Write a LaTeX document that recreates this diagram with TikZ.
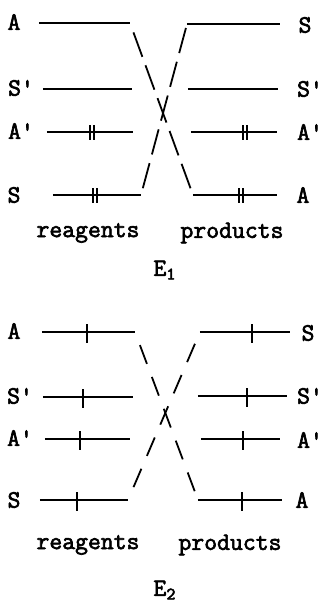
\documentclass[tikz,border=0pt]{standalone}
\usepackage{fontspec}
\setmonofont{Latin Modern Mono}[FakeBold=2.5]
\begin{document}
\begin{tikzpicture}[x=0.5pt,y=-0.5pt,
  lvl/.style={line width=1.2pt},
  tick/.style={line width=1.1pt},
  corr/.style={dash pattern=on 13pt off 4.5pt,line width=0.9pt},
  corrw/.style={dash pattern=on 10pt off 7pt,line width=0.9pt},
  lab/.style={font=\fontsize{12.5}{14}\ttfamily\bfseries,inner sep=0pt}]
  \useasboundingbox (0,0) rectangle (323,602);
  \node[lab] (ta1) at (14,22) {A};
  \node[lab] (ts1) at (21,88) {S'};
  \node[lab] (tap1) at (21,131) {A'};
  \node[lab] (tss1) at (14,195) {S};
  \draw[lvl] (39,23) -- (130,23) coordinate (rA1);
  \draw[lvl] (43,89) -- (132,89);
  \draw[lvl] (47,132) -- (133,132);
  \draw[lvl] (53,195) -- (141,195) coordinate (rS1);
  \draw[tick] (90,125) -- (90,140) (94,125) -- (94,140);
  \draw[tick] (93,188) -- (93,203) (97,188) -- (97,203);
  \draw[lvl] (187,24) coordinate (pS1) -- (280,24);
  \draw[lvl] (188,89) -- (278,89);
  \draw[lvl] (191,132) -- (277,132);
  \draw[lvl] (193,195) coordinate (pA1) -- (277,195);
  \draw[tick] (243,125) -- (243,140) (247,125) -- (247,140);
  \draw[tick] (239,188) -- (239,203) (243,188) -- (243,203);
  \node[lab] (ts2) at (305,25) {S};
  \node[lab] (tsp2) at (310,89) {S'};
  \node[lab] (tap2) at (310,132) {A'};
  \node[lab] (taa2) at (303,195) {A};
  \draw[corr,shorten <=5pt,shorten >=3.6pt] (rA1) -- (pA1);
  \draw[corr,shorten <=3.5pt,shorten >=2pt] (rS1) -- (pS1);
  \node[lab] (reag1) at (88,233) {reagents};
  \node[lab] (prod1) at (232,233) {products};
  \node[lab] (e1) at (165,270) {E\textsubscript{1}};
  \node[lab] (ta3) at (14,331) {A};
  \node[lab] (tsp3) at (20,396) {S'};
  \node[lab] (tap3) at (20,438) {A'};
  \node[lab] (ts3) at (14,500) {S};
  \draw[lvl] (42,332) -- (135,332) coordinate (rA2);
  \draw[lvl] (43,397) -- (133,397);
  \draw[lvl] (45,439) -- (130,439);
  \draw[lvl] (40,500) -- (128,500) coordinate (rS2);
  \draw[tick] (87,324) -- (87,343);
  \draw[tick] (83,389) -- (83,408);
  \draw[tick] (80,431) -- (80,450);
  \draw[tick] (77,492) -- (77,511);
  \draw[lvl] (200,332) coordinate (pS2) -- (290,332);
  \draw[lvl] (198,396) -- (287,396);
  \draw[lvl] (201,439) -- (280,439);
  \draw[lvl] (198,500) coordinate (pA2) -- (282,500);
  \draw[tick] (252,324) -- (252,343);
  \draw[tick] (247,388) -- (247,407);
  \draw[tick] (243,431) -- (243,450);
  \draw[tick] (242,492) -- (242,511);
  \node[lab] (ts4) at (308,333) {S};
  \node[lab] (tsp4) at (310,396) {S'};
  \node[lab] (tap4) at (310,440) {A'};
  \node[lab] (ta4) at (302,500) {A};
  \draw[corrw,shorten <=7pt,shorten >=4.7pt] (rA2) -- (pA2);
  \draw[corrw,shorten <=7pt,shorten >=6.4pt] (rS2) -- (pS2);
  \node[lab] (reag2) at (88,545) {reagents};
  \node[lab] (prod2) at (230,545) {products};
  \node[lab] (e2) at (165,590) {E\textsubscript{2}};
\end{tikzpicture}
\end{document}
